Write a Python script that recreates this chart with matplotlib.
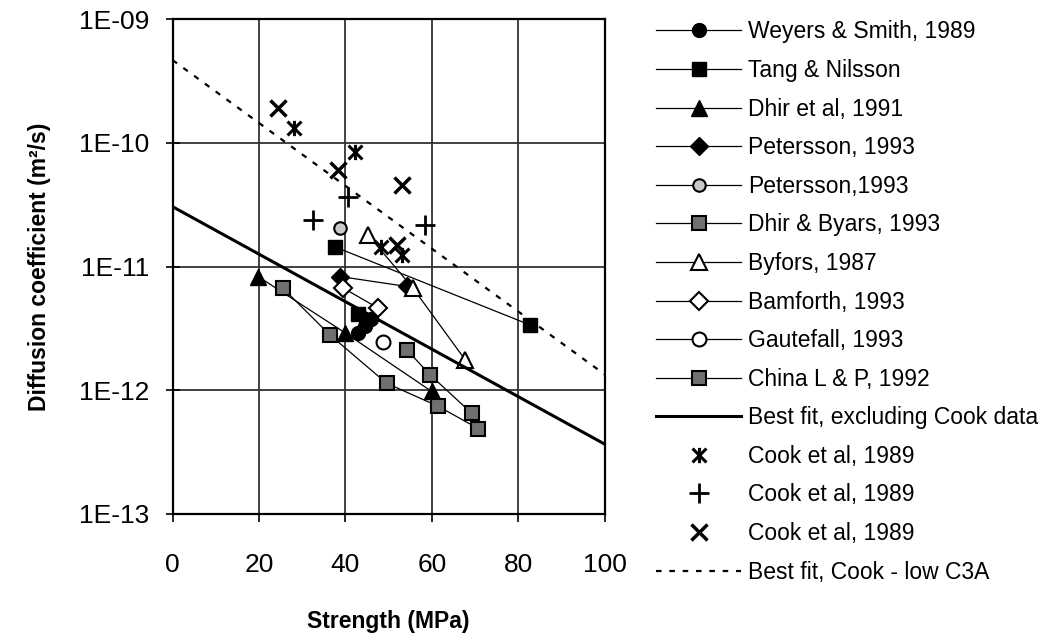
import numpy as np
import matplotlib
matplotlib.use("Agg")
import matplotlib.pyplot as plt
from matplotlib.path import Path
from matplotlib.ticker import FixedLocator, FuncFormatter

plt.rcParams['font.family'] = ['Liberation Sans', 'DejaVu Sans']

# data (strength MPa, diffusion coefficient m2/s)
weyers_x = [43.0, 44.5, 46.0]
weyers_y = [2.9e-12, 3.3e-12, 3.8e-12]
tang_x = [37.6, 82.7]
tang_y = [1.44e-11, 3.37e-12]
tang_extra_x = [42.8]
tang_extra_y = [4.1e-12]
dhir91_x = [19.8, 40.0, 59.9]
dhir91_y = [8.3e-12, 2.9e-12, 9.8e-13]
peter_x = [38.8, 54.2]
peter_y = [8.3e-12, 6.9e-12]
peter2_x = [38.7]
peter2_y = [2.05e-11]
dhirbyars_x = [25.5, 36.4, 49.5, 61.5, 70.7]
dhirbyars_y = [6.7e-12, 2.8e-12, 1.14e-12, 7.4e-13, 4.9e-13]
byfors_x = [45.2, 55.6, 67.7]
byfors_y = [1.80e-11, 6.7e-12, 1.76e-12]
bamforth_x = [39.5, 47.6]
bamforth_y = [6.7e-12, 4.6e-12]
gautefall_x = [48.7]
gautefall_y = [2.46e-12]
china_x = [54.2, 59.6, 69.2]
china_y = [2.12e-12, 1.33e-12, 6.5e-13]
fit_x = [0, 100]
fit_y = [3.05e-11, 3.66e-13]
cook_ast_x = [28.1, 42.2, 48.3, 53.1]
cook_ast_y = [1.33e-10, 8.5e-11, 1.44e-11, 1.24e-11]
cook_plus_x = [32.4, 40.6, 58.4]
cook_plus_y = [2.38e-11, 3.67e-11, 2.17e-11]
cook_x_x = [24.4, 38.2, 53.0, 52.0]
cook_x_y = [1.92e-10, 6.0e-11, 4.56e-11, 1.5e-11]
cookfit_x = [0, 100]
cookfit_y = [4.67e-10, 1.34e-12]

x_ticks = [0, 20, 40, 60, 80, 100]
y_ticks = [1e-13, 1e-12, 1e-11, 1e-10, 1e-9]

# Excel style star: an X with a vertical stroke through it
ast_marker = Path([(-1, -1), (1, 1), (-1, 1), (1, -1), (0, -1.1), (0, 1.1)],
                  [Path.MOVETO, Path.LINETO] * 3)

fig = plt.figure(figsize=(10.52, 6.4), dpi=100)
ax = fig.add_axes([0.164, 0.197, 0.411, 0.773])

line = dict(color='black', lw=0.9, mec='black')
hatch_grey = '#707070'

ax.plot(weyers_x, weyers_y, marker='o', ms=10, mfc='black', label='Weyers & Smith, 1989', **line)
ax.plot(tang_x, tang_y, marker='s', ms=10, mfc='black', label='Tang & Nilsson', **line)
ax.plot(dhir91_x, dhir91_y, marker='^', ms=11, mfc='black', label='Dhir et al, 1991', **line)
ax.plot(peter_x, peter_y, marker='D', ms=9, mfc='black', label='Petersson, 1993', **line)
ax.plot(peter2_x, peter2_y, marker='o', ms=9, mfc='#c8c8c8', mew=1.5, label='Petersson,1993', **line)
ax.plot(dhirbyars_x, dhirbyars_y, marker='s', ms=10, mfc=hatch_grey, mew=1.5, label='Dhir & Byars, 1993', **line)
ax.plot(byfors_x, byfors_y, marker='^', ms=11, mfc='white', mew=1.5, label='Byfors, 1987', **line)
ax.plot(bamforth_x, bamforth_y, marker='D', ms=9, mfc='white', mew=1.5, label='Bamforth, 1993', **line)
ax.plot(gautefall_x, gautefall_y, marker='o', ms=10, mfc='white', mew=1.5, label='Gautefall, 1993', **line)
ax.plot(china_x, china_y, marker='s', ms=10, mfc=hatch_grey, mew=1.5, label='China L & P, 1992', **line)
ax.plot(fit_x, fit_y, color='black', lw=2.2, label='Best fit, excluding Cook data')
ax.plot(cook_ast_x, cook_ast_y, ls='none', marker=ast_marker, ms=11, mew=2.2, color='black', label='Cook et al, 1989')
ax.plot(cook_plus_x, cook_plus_y, ls='none', marker='+', ms=14, mew=2, color='black', label='Cook et al, 1989')
ax.plot(cook_x_x, cook_x_y, ls='none', marker='x', ms=11, mew=2.5, color='black', label='Cook et al, 1989')
ax.plot(cookfit_x, cookfit_y, color='black', lw=1.6, ls=(0, (2.5, 3.5)), label='Best fit, Cook - low C3A')
ax.plot(tang_extra_x, tang_extra_y, ls='none', marker='s', ms=10, mfc='black', mec='black')

ax.set_yscale('log')
ax.set_xlim(0, 100)
ax.set_ylim(1e-13, 1e-9)
ax.xaxis.set_major_locator(FixedLocator(x_ticks))
ax.yaxis.set_major_locator(FixedLocator(y_ticks))
ax.yaxis.set_minor_locator(FixedLocator([]))
ax.yaxis.set_major_formatter(FuncFormatter(lambda v, p: "1E%03d" % round(np.log10(v))))
ax.tick_params(axis='both', labelsize=19, width=1.2, colors='black')
ax.tick_params(axis='y', direction='inout', length=10, pad=12)
ax.tick_params(axis='x', direction='out', length=6, pad=22)
ax.grid(True, color='#333333', lw=1.3)
for s in ax.spines.values():
    s.set_linewidth(1.6)

ax.set_xlabel('Strength (MPa)', fontsize=16.5, fontweight='bold', labelpad=24)
ax.set_ylabel('Diffusion coefficient (m²/s)', fontsize=16.5, fontweight='bold', labelpad=20)

ax.legend(loc='upper left', bbox_to_anchor=(0.624, 0.968), bbox_transform=fig.transFigure,
          frameon=False, fontsize=16.5, handlelength=3.7, handletextpad=0.3,
          labelspacing=0.68, borderpad=0, borderaxespad=0, numpoints=1)

fig.savefig('out.png', dpi=100)
